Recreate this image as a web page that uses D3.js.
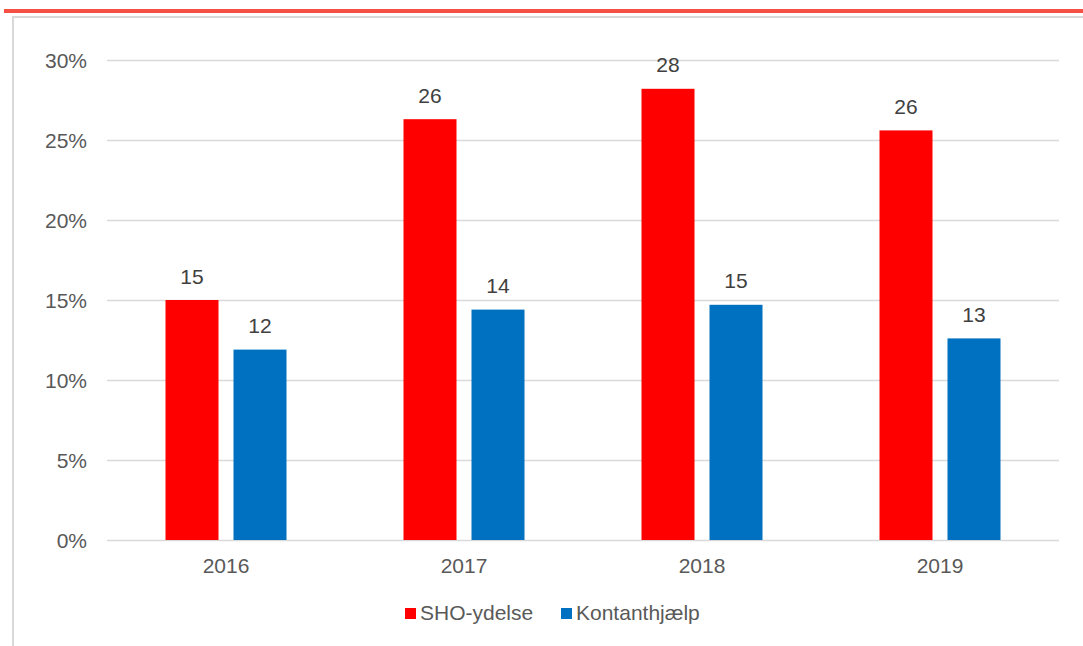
<!DOCTYPE html>
<html>
<head>
<meta charset="utf-8">
<script src="https://cdn.jsdelivr.net/npm/d3@7"></script>
<style>
  html, body { margin: 0; padding: 0; background: #fff; }
  svg { display: block; font-family: "Liberation Sans", Arial, sans-serif; }
</style>
</head>
<body>
<svg id="chart" width="1083" height="646"></svg>
<script>
// Share of recipients per year (%)
const years = ["2016", "2017", "2018", "2019"];
const seriesNames = ["SHO-ydelse", "Kontanthjælp"];
const shoValues = [15.0, 26.3, 28.2, 25.6];
const kontantValues = [11.9, 14.4, 14.7, 12.6];
const yTicks = [0, 5, 10, 15, 20, 25, 30];
const colors = ["#ff0000", "#0070c0"];

const seriesValues = [shoValues, kontantValues];
const rows = years.map((y, i) => ({ year: y, values: seriesNames.map((s, j) => ({ series: s, value: seriesValues[j][i] })) }));

const svg = d3.select("#chart");
const W = 1083, H = 646;
const plot = { left: 107, right: 1059, top: 60, bottom: 540 };
const fs = 21;

// Frame: accent line on top and light border
svg.append("line").attr("x1", 4).attr("x2", W).attr("y1", 11).attr("y2", 11)
  .attr("stroke", "#f55043").attr("stroke-width", 4);
svg.append("line").attr("x1", 12).attr("x2", W).attr("y1", 17).attr("y2", 17)
  .attr("stroke", "#d9d9d9").attr("stroke-width", 2);
svg.append("line").attr("x1", 13).attr("x2", 13).attr("y1", 16).attr("y2", H)
  .attr("stroke", "#d9d9d9").attr("stroke-width", 2);

const y = d3.scaleLinear().domain([0, 30]).range([plot.bottom, plot.top]);
const x0 = d3.scaleBand().domain(years).range([plot.left, plot.right]).paddingInner(0).paddingOuter(0);
const groupW = 121;
const x1 = d3.scaleBand().domain(seriesNames).range([-groupW / 2, groupW / 2]).paddingInner(15 / 68).paddingOuter(0);
const color = d3.scaleOrdinal().domain(seriesNames).range(colors);

// Gridlines
svg.append("g").selectAll("line").data(yTicks).join("line")
  .attr("x1", plot.left).attr("x2", plot.right)
  .attr("y1", d => Math.round(y(d)) + 0.5).attr("y2", d => Math.round(y(d)) + 0.5)
  .attr("stroke", "#d9d9d9").attr("stroke-width", 1.5);

// Y axis labels
svg.append("g").selectAll("text").data(yTicks).join("text")
  .attr("x", 87).attr("y", d => y(d)).attr("dy", "0.36em")
  .attr("text-anchor", "end").attr("font-size", fs).attr("fill", "#595959")
  .text(d => d + "%");

// Bars
const groups = svg.append("g").selectAll("g").data(rows).join("g")
  .attr("transform", d => `translate(${x0(d.year) + x0.bandwidth() / 2},0)`);

groups.selectAll("rect").data(d => d.values).join("rect")
  .attr("x", d => x1(d.series))
  .attr("width", x1.bandwidth())
  .attr("y", d => y(d.value))
  .attr("height", d => y(0) - y(d.value))
  .attr("fill", d => color(d.series));

// Value labels
groups.selectAll("text").data(d => d.values).join("text")
  .attr("x", d => x1(d.series) + x1.bandwidth() / 2)
  .attr("y", d => y(d.value) - 16.5)
  .attr("text-anchor", "middle").attr("font-size", fs).attr("fill", "#404040")
  .text(d => Math.round(d.value));

// X axis labels
svg.append("g").selectAll("text").data(years).join("text")
  .attr("x", d => x0(d) + x0.bandwidth() / 2).attr("y", 573)
  .attr("text-anchor", "middle").attr("font-size", fs).attr("fill", "#595959")
  .text(d => d);

// Legend
const legendPos = [405, 561];
const legend = svg.append("g").selectAll("g").data(seriesNames).join("g")
  .attr("transform", (d, i) => `translate(${legendPos[i]},608)`);
legend.append("rect").attr("width", 11).attr("height", 11).attr("fill", d => color(d));
legend.append("text").attr("x", 15).attr("y", 11.5).attr("font-size", fs).attr("fill", "#595959").text(d => d);
</script>
</body>
</html>
